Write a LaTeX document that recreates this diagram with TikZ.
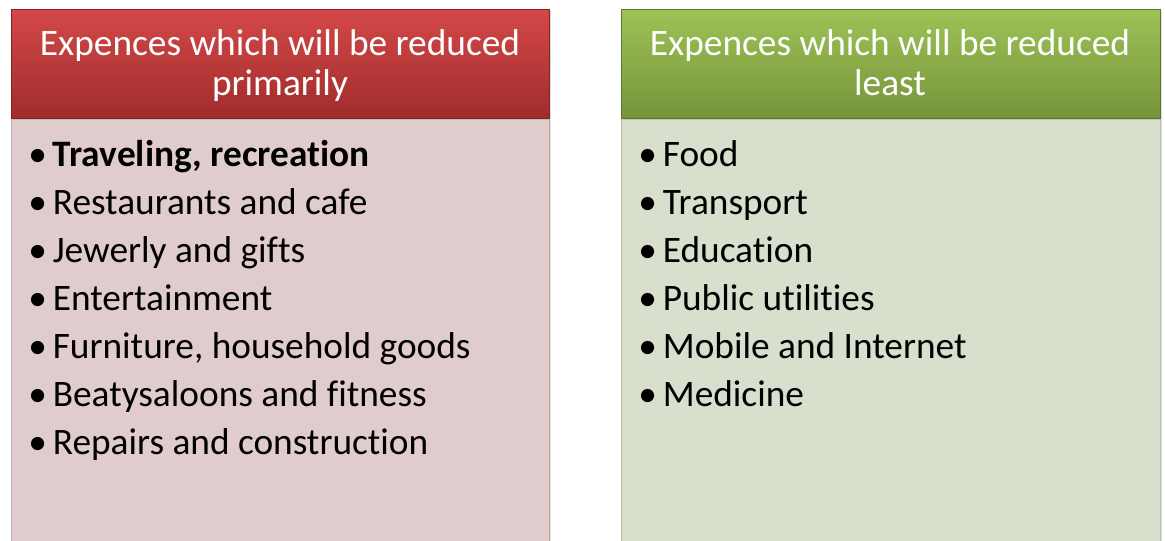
\documentclass[tikz,border=0pt]{standalone}
\usepackage{fontspec}
\setmainfont[Ligatures={NoCommon}]{Carlito}
\usetikzlibrary{shadows}
\definecolor{redtop}{RGB}{212,72,72}
\definecolor{redbot}{RGB}{160,44,44}
\definecolor{redbody}{RGB}{224,204,204}
\definecolor{greentop}{RGB}{158,194,86}
\definecolor{greenbot}{RGB}{118,148,58}
\definecolor{greenbody}{RGB}{216,223,205}
\tikzset{
  px/.style={x=0.75pt,y=-0.75pt},
  hdrtext/.style={text=white,font=\fontsize{28}{30}\selectfont,align=center,inner sep=0pt},
  itemtext/.style={anchor=base west,font=\fontsize{28}{30}\selectfont,inner sep=0pt,text=black},
  boxshadow/.style={drop shadow={shadow xshift=1.5pt,shadow yshift=-1pt,opacity=0.25}},
}
\newcommand{\itm}[1]{•\hspace{4.5pt}#1}
\begin{document}
\begin{tikzpicture}[px]
\useasboundingbox (0,0) rectangle (1165,540);
\fill[white] (0,0) rectangle (1165,540);
% left box
\node[boxshadow,fill=redbody,draw=redbody!85!black,line width=0.4pt,minimum width=538*0.75pt,minimum height=430*0.75pt,anchor=north west,inner sep=0pt] (lbody) at (11,118) {};
\node[boxshadow,top color=redtop,bottom color=redbot,draw=redbot!80!black,line width=0.4pt,minimum width=538*0.75pt,minimum height=109*0.75pt,anchor=north west,inner sep=0pt] (lhead) at (11,9) {};
\node[hdrtext] (lht) at (280,67) {\strut Expences which will be reduced\\\strut primarily};
% right box
\node[boxshadow,fill=greenbody,draw=greenbody!85!black,line width=0.4pt,minimum width=539*0.75pt,minimum height=430*0.75pt,anchor=north west,inner sep=0pt] (rbody) at (621,118) {};
\node[boxshadow,top color=greentop,bottom color=greenbot,draw=greenbot!80!black,line width=0.4pt,minimum width=539*0.75pt,minimum height=109*0.75pt,anchor=north west,inner sep=0pt] (rhead) at (621,9) {};
\node[hdrtext] (rht) at (890,67) {\strut Expences which will be reduced\\\strut least};
% left items
\node[itemtext] (l1) at (28,166) {\itm{\textbf{Traveling, recreation}}};
\node[itemtext] (l2) at (28,214) {\itm{Restaurants and cafe}};
\node[itemtext] (l3) at (28,262) {\itm{Jewerly and gifts}};
\node[itemtext] (l4) at (28,310) {\itm{Entertainment}};
\node[itemtext] (l5) at (28,358) {\itm{Furniture, household goods}};
\node[itemtext] (l6) at (28,406) {\itm{Beatysaloons and fitness}};
\node[itemtext] (l7) at (28,454) {\itm{Repairs and construction}};
% right items
\node[itemtext] (r1) at (638,166) {\itm{Food}};
\node[itemtext] (r2) at (638,214) {\itm{Transport}};
\node[itemtext] (r3) at (638,262) {\itm{Education}};
\node[itemtext] (r4) at (638,310) {\itm{Public utilities}};
\node[itemtext] (r5) at (638,358) {\itm{Mobile and Internet}};
\node[itemtext] (r6) at (638,406) {\itm{Medicine}};
\end{tikzpicture}
\end{document}
